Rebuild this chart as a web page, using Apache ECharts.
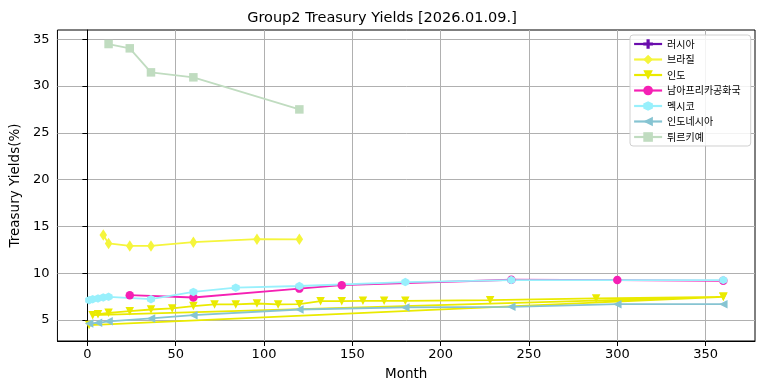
<!DOCTYPE html>
<html><head><meta charset="utf-8">
<script src="https://cdn.jsdelivr.net/npm/echarts@6/dist/echarts.min.js"></script>
<style>html,body{margin:0;padding:0;background:#fff}#c{width:764px;height:391px}</style>
</head><body><div id="c"></div>
<script>
// ---- data ----
const seriesNames = ['러시아','브라질','인도','남아프리카공화국','멕시코','인도네시아','튀르키예'];
const russiaMonths = [];
const russiaYields = [];
const brazilMonths = [9,12,24,36,60,96,120];
const brazilYields = [14.07,13.18,12.92,12.92,13.32,13.64,13.62];
const indiaMonths = [1,360,3,6,12,24,36,48,60,72,84,96,108,120,132,144,156,168,180,228,288,360];
const indiaYields = [4.45,7.47,5.51,5.62,5.76,5.94,6.12,6.23,6.48,6.66,6.66,6.76,6.66,6.69,7.01,7.01,7.04,7.04,7.04,7.12,7.30,7.47];
const safricaMonths = [24,60,120,144,240,300,360];
const safricaYields = [7.65,7.40,8.35,8.72,9.30,9.26,9.18];
const mexicoMonths = [1,3,6,9,12,36,60,84,120,180,240,360];
const mexicoYields = [7.12,7.22,7.30,7.41,7.47,7.22,8.00,8.45,8.63,9.05,9.26,9.26];
const indonesiaMonths = [1,6,12,36,60,120,180,240,300,360];
const indonesiaYields = [4.63,4.69,4.85,5.16,5.51,6.12,6.34,6.40,6.69,6.69];
const turkeyMonths = [12,24,36,60,120];
const turkeyYields = [34.50,34.04,31.47,30.94,27.51];
const xTicks = [0,50,100,150,200,250,300,350];
const yTicks = [5,10,15,20,25,30,35];

const zip = (a,b) => a.map((v,i)=>[v,b[i]]);
const FONT = 'DejaVu Sans';
const plusPath = 'path://M-1,-3 L1,-3 L1,-1 L3,-1 L3,1 L1,1 L1,3 L-1,3 L-1,1 L-3,1 L-3,-1 L-1,-1 Z';
const hexPath = 'path://M0,-1 L0.866,-0.5 L0.866,0.5 L0,1 L-0.866,0.5 L-0.866,-0.5 Z';

const styles = [
  {data: zip(russiaMonths,russiaYields), color:'#6a0dad', symbol: plusPath, size: 9, rot: 0},
  {data: zip(brazilMonths,brazilYields), color:'#f5f53c', symbol: 'diamond', size: [7.5,11.5], rot: 0},
  {data: zip(indiaMonths,indiaYields), color:'#eaea00', symbol: 'triangle', size: 8.5, rot: 180},
  {data: zip(safricaMonths,safricaYields), color:'#f520b4', symbol: 'circle', size: 8.5, rot: 0},
  {data: zip(mexicoMonths,mexicoYields), color:'#98f0fc', symbol: hexPath, size: [8,8.5], rot: 0},
  {data: zip(indonesiaMonths,indonesiaYields), color:'#86c4d2', symbol: 'triangle', size: 8.5, rot: 90},
  {data: zip(turkeyMonths,turkeyYields), color:'#c0dcc0', symbol: 'rect', size: 8.5, rot: 0}
];

const series = styles.map((s,i)=>({
  name: seriesNames[i], type:'line', data: s.data,
  symbol: s.symbol, symbolSize: s.size, symbolRotate: s.rot,
  showSymbol: true, showAllSymbol: true,
  lineStyle: {color: s.color, width: 1.8},
  itemStyle: {color: s.color, borderWidth: 0},
  emphasis: {disabled: true}
}));

const chart = echarts.init(document.getElementById('c'), null, {renderer:'canvas'});
chart.setOption({
  animation: false,
  backgroundColor: '#fff',
  title: {text: 'Group2 Treasury Yields [2026.01.09.]', left: 'center', top: 6,
    textStyle: {fontFamily: FONT, fontSize: 14.5, fontWeight: 'normal', color: '#000'}},
  grid: {left: 57, top: 30, width: 698, height: 311, show: true, borderColor: '#000', borderWidth: 1, containLabel: false},
  legend: {
    data: seriesNames, orient: 'vertical', left: 630, top: 35,
    itemWidth: 28, itemHeight: 12, itemGap: 5.5,
    padding: [4,10,4,3],
    lineStyle: {width: 2.2},
    backgroundColor: 'rgba(255,255,255,0.85)', borderColor: '#d0d0d0', borderWidth: 1, borderRadius: 3,
    textStyle: {fontFamily: 'Noto Sans CJK KR', fontSize: 10, color: '#000'}
  },
  xAxis: {
    type: 'value', min: -16.95, max: 377.95, minInterval: 50, maxInterval: 50,
    name: 'Month', nameLocation: 'middle', nameGap: 26,
    nameTextStyle: {fontFamily: FONT, fontSize: 13.5, color: '#000'},
    axisLine: {show: true, lineStyle: {color: '#000', width: 1}},
    axisTick: {show: true, length: 5, customValues: xTicks, lineStyle: {color: '#000'}},
    axisLabel: {fontFamily: FONT, fontSize: 13, color: '#000', margin: 7, customValues: xTicks,
      formatter: v => xTicks.includes(v) ? String(v) : ''},
    splitLine: {show: true, lineStyle: {color: '#b0b0b0', width: 1}}
  },
  yAxis: {
    type: 'value', min: 2.75, max: 36.0, minInterval: 5, maxInterval: 5,
    name: 'Treasury Yields(%)', nameLocation: 'middle', nameGap: 34,
    nameTextStyle: {fontFamily: FONT, fontSize: 13.5, color: '#000'},
    axisLine: {show: true, lineStyle: {color: '#000', width: 1}},
    axisTick: {show: true, length: 5, customValues: yTicks, lineStyle: {color: '#000'}},
    axisLabel: {fontFamily: FONT, fontSize: 13, color: '#000', margin: 8, customValues: yTicks,
      formatter: v => yTicks.includes(v) ? String(v) : ''},
    splitLine: {show: true, lineStyle: {color: '#b0b0b0', width: 1}}
  },
  series: series
});
</script>
</body></html>
